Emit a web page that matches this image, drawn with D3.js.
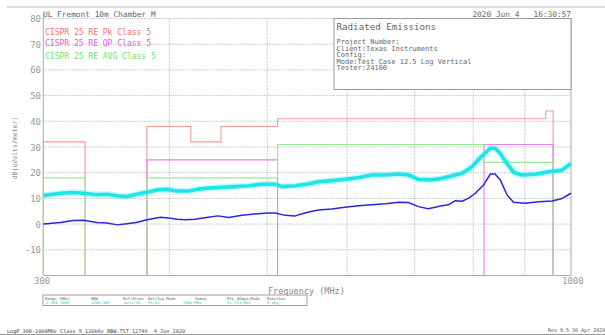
<!DOCTYPE html>
<meta charset="utf-8">
<head>
    <meta charset="utf-8">
    <title>Radiated Emissions</title>
    <script src="https://d3js.org/d3.v7.min.js"></script>
    <style>
        body { margin: 0; background: #fff; }
        svg text { font-family: 'DejaVu Sans Mono', monospace; white-space: pre; }
    </style>
</head>
<body>
<div id="my_dataviz"></div>
<script>
    // Peak trace (cyan)
    var peakFreq = [300, 312, 321, 329, 339, 347, 355, 363, 371, 380, 389, 398, 407, 418, 427, 437, 451, 465, 479, 494,
        509, 517, 533, 549, 562, 579, 597, 616, 635, 655, 675, 690, 706, 728, 745, 756, 780, 798, 816, 832,
        841, 851, 864, 877, 894, 922, 950, 980, 1000];
    var peakDb = [11.1, 12.0, 12.3, 12.0, 11.4, 11.6, 11.0, 10.7, 11.6, 12.4, 13.3, 13.5, 12.9, 12.9, 13.6, 14.0, 14.3, 14.6, 14.9, 15.5,
        15.5, 14.6, 14.9, 15.6, 16.5, 16.9, 17.4, 18.1, 19.1, 19.1, 19.5, 19.1, 17.4, 17.2, 17.8, 18.4, 19.8, 22.3, 26.5, 29.5,
        29.5, 27.5, 23.6, 20.2, 19.1, 19.4, 20.4, 21.0, 23.6];

    // Average trace (blue)
    var avgFreq = [300, 312, 321, 329, 339, 347, 355, 363, 371, 380, 392, 401, 407, 415, 424, 437, 447, 458, 472, 486,
        501, 509, 521, 533, 545, 554, 562, 579, 597, 616, 635, 655, 675, 690, 706, 722, 745, 756, 768, 780,
        792, 804, 819, 832, 841, 851, 864, 877, 901, 929, 958, 980, 1000];
    var avgDb = [0.0, 0.6, 1.4, 1.5, 0.6, 0.4, -0.3, 0.1, 0.6, 1.7, 2.7, 2.3, 1.9, 1.7, 1.9, 2.7, 3.2, 2.6, 3.4, 3.9,
        4.3, 4.3, 3.4, 3.2, 4.3, 5.0, 5.5, 5.9, 6.6, 7.1, 7.5, 7.9, 8.5, 8.4, 6.8, 6.0, 7.1, 7.5, 9.1, 8.9,
        10.1, 12.0, 15.2, 19.5, 19.5, 17.2, 11.4, 8.5, 8.1, 8.7, 9.0, 10.0, 12.0];

    // Limit bands: [start MHz, stop MHz, dBuV/m]
    var pkLimit = [[300, 330, 32], [380, 420, 38], [420, 450, 32], [450, 512, 38], [512, 944, 41], [944, 960, 44]];
    var qpLimit = [[380, 512, 25], [820, 960, 31]];
    var avLimit = [[300, 330, 18], [380, 512, 18], [512, 820, 31], [820, 960, 24]];

    var yTicks = [80, 70, 60, 50, 40, 30, 20, 10, 0, -10];
    var xGrid = [400, 500, 600, 700, 800, 900];

    var legendNames = ["CISPR 25 RE Pk Class 5", "CISPR 25 RE QP Class 5", "CISPR 25 RE AVG Class 5"];
    var infoLines = ["Project Number:", "Client:Texas Instruments", "Config:", "Mode:Test Case 12.5 Log Vertical", "Tester:24160"];
    var tableHeads = [["Range (MHz)", 45], ["RBW", 91], ["Ref/Atten", 123], ["Det/Avg Mode", 148], ["Sweep", 195],
        ["Pts", 227], ["#Swps/Mode", 237], ["Position", 267]];
    var tableVals = [["1.300-1000", 46], ["120k/360", 91], ["Auto/10", 124], ["Pk/Av", 148], ["20ms/MHz", 183],
        ["11.75", 227], ["1/MAX", 239], ["0 deg", 267]];

    var W = 605, H = 335;
    var svg = d3.select("#my_dataviz")
        .append("svg")
        .attr("width", W)
        .attr("height", H);

    var x = d3.scaleLog().domain([300, 1000]).range([43.3, 571]);
    var y = d3.scaleLinear().domain([-20, 80]).range([275.5, 18.5]);

    // page frame lines
    svg.append("line").attr("x1", 7).attr("x2", W).attr("y1", 7).attr("y2", 7)
        .attr("stroke", "#bbb").attr("stroke-width", 1);
    svg.append("line").attr("x1", 0).attr("x2", W).attr("y1", 334.5).attr("y2", 334.5)
        .attr("stroke", "#999").attr("stroke-width", 1);

    // grid
    svg.selectAll(".hgrid").data(yTicks).enter().append("line")
        .attr("x1", x(300)).attr("x2", x(1000))
        .attr("y1", d => y(d)).attr("y2", d => y(d))
        .attr("stroke", "#aaa").attr("stroke-width", 0.8).attr("stroke-dasharray", "1.2,1.2");
    svg.selectAll(".vgrid").data(xGrid).enter().append("line")
        .attr("x1", d => x(d)).attr("x2", d => x(d))
        .attr("y1", y(80)).attr("y2", y(-20))
        .attr("stroke", "#aaa").attr("stroke-width", 0.8).attr("stroke-dasharray", "1.2,1.2");

    // plot frame
    svg.append("path")
        .attr("d", "M" + x(300) + "," + 13 + "V" + y(-20) + "H" + x(1000) + "V" + y(80))
        .attr("fill", "none").attr("stroke", "#aaa").attr("stroke-width", 1);

    // y tick labels
    svg.selectAll(".ylab").data(yTicks).enter().append("text")
        .attr("x", 41).attr("y", d => y(d) + 3.5)
        .attr("text-anchor", "end")
        .style("font-size", "9px").style("fill", "#999")
        .text(d => d);
    svg.append("text").attr("x", 34).attr("y", 283.5).style("font-size", "9px").style("fill", "#999").text("300");
    svg.append("text").attr("x", 562).attr("y", 283.5).style("font-size", "9px").style("fill", "#999").text("1000");

    svg.append("text")
        .attr("transform", "translate(17,148) rotate(-90)")
        .attr("text-anchor", "middle")
        .style("font-size", "6.5px").style("fill", "#888")
        .text("dB(uVolts/meter)");
    svg.append("text").attr("x", 268).attr("y", 293.5)
        .style("font-size", "8.5px").style("fill", "#888")
        .text("Frequency (MHz)");

    // limit lines
    function limitPath(bands) {
        var p = d3.path();
        bands.forEach(function(b, i) {
            var prev = bands[i - 1], next = bands[i + 1];
            if (!prev || prev[1] !== b[0]) p.moveTo(x(b[0]), y(-20));
            p.lineTo(x(b[0]), y(b[2]));
            p.lineTo(x(b[1]), y(b[2]));
            if (!next || next[0] !== b[1]) p.lineTo(x(b[1]), y(-20));
        });
        return p.toString();
    }
    var limits = [[pkLimit, "#f29a9a"], [qpLimit, "#ee80ee"], [avLimit, "#96ec96"]];
    limits.forEach(function(l) {
        svg.append("path").attr("d", limitPath(l[0]))
            .attr("fill", "none").attr("stroke", l[1]).attr("stroke-width", 1.1);
    });

    // traces
    var peakData = peakFreq.map((f, i) => [f, peakDb[i]]);
    var avgData = avgFreq.map((f, i) => [f, avgDb[i]]);
    var line = d3.line().x(d => x(d[0])).y(d => y(d[1]));

    svg.append("path").datum(peakData).attr("d", line)
        .attr("fill", "none").attr("stroke", "#40f0f0").attr("stroke-width", 6.5).attr("opacity", 0.3)
        .attr("stroke-linejoin", "round");
    svg.append("path").datum(peakData).attr("d", line)
        .attr("fill", "none").attr("stroke", "#1ee6e8").attr("stroke-width", 3.6)
        .attr("stroke-linejoin", "round");
    svg.append("path").datum(avgData).attr("d", line)
        .attr("fill", "none").attr("stroke", "#2828d8").attr("stroke-width", 1.5)
        .attr("stroke-linejoin", "round");

    // header texts
    svg.append("text").attr("x", 43).attr("y", 17).style("font-size", "7.8px").style("fill", "#666")
        .text("UL Fremont 10m Chamber M");
    svg.append("text").attr("x", 571).attr("y", 16.5).attr("text-anchor", "end")
        .style("font-size", "7.8px").style("fill", "#666")
        .text("2020 Jun 4   16:30:57");

    // legend
    var legendColors = ["#f07070", "#e060e0", "#70e070"];
    var legendY = [34.5, 45.5, 59];
    svg.selectAll(".legend").data(legendNames).enter().append("text")
        .attr("x", 45).attr("y", (d, i) => legendY[i])
        .style("font-size", "8px").style("fill", (d, i) => legendColors[i])
        .text(d => d);

    // info box
    svg.append("rect").attr("x", 334).attr("y", 18.5).attr("width", 237).attr("height", 71)
        .attr("fill", "#fff").attr("stroke", "#999").attr("stroke-width", 1);
    svg.append("text").attr("x", 336.5).attr("y", 30).style("font-size", "9.2px").style("fill", "#666")
        .text("Radiated Emissions");
    svg.selectAll(".info").data(infoLines).enter().append("text")
        .attr("x", 336.5).attr("y", (d, i) => 44 + i * 6.5)
        .style("font-size", "7px").style("fill", "#666")
        .text(d => d);

    // settings table
    svg.append("rect").attr("x", 43).attr("y", 295).attr("width", 264).attr("height", 10.5)
        .attr("fill", "none").attr("stroke", "#888").attr("stroke-width", 0.8);
    svg.selectAll(".thead").data(tableHeads).enter().append("text")
        .attr("x", d => d[1]).attr("y", 299.5)
        .style("font-size", "3.8px").style("fill", "#555")
        .text(d => d[0]);
    svg.selectAll(".tval").data(tableVals).enter().append("text")
        .attr("x", d => d[1]).attr("y", 303.8)
        .style("font-size", "3.8px").style("fill", "#22cccc")
        .text(d => d[0]);

    // footer
    svg.append("text").attr("x", 7).attr("y", 333).style("font-size", "5.2px").style("fill", "#444")
        .text("LogP 300-1000MHz Class 5_120kHz RBW.TST 12746  4 Jun 2020");
    svg.append("text").attr("x", 548).attr("y", 331.5).style("font-size", "5px").style("fill", "#555")
        .text("Rev 9.5 30 Apr 2020");
</script>
</body>
